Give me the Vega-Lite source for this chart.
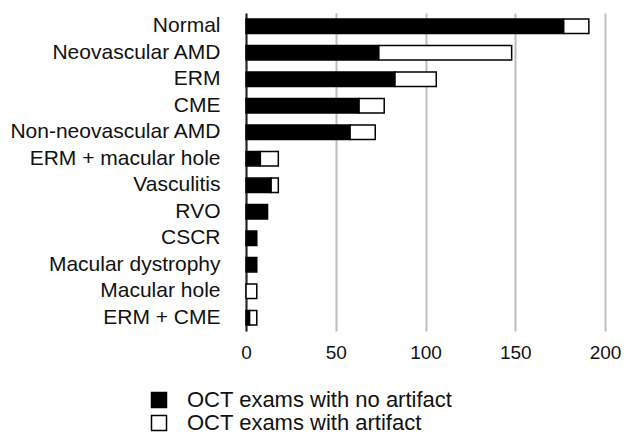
{
  "$schema": "https://vega.github.io/schema/vega-lite/v6.json",
  "autosize": "none",
  "width": 359,
  "height": 318,
  "padding": {"left": 246, "top": 13, "right": 28, "bottom": 104},
  "background": "white",
  "config": {
    "font": "Liberation Sans",
    "view": {"stroke": null}
  },
  "data": {
    "values": [
      {"condition": "Normal", "type": "OCT exams with no artifact", "count": 177},
      {"condition": "Normal", "type": "OCT exams with artifact", "count": 14},
      {"condition": "Neovascular AMD", "type": "OCT exams with no artifact", "count": 74},
      {"condition": "Neovascular AMD", "type": "OCT exams with artifact", "count": 74},
      {"condition": "ERM", "type": "OCT exams with no artifact", "count": 83},
      {"condition": "ERM", "type": "OCT exams with artifact", "count": 23},
      {"condition": "CME", "type": "OCT exams with no artifact", "count": 63},
      {"condition": "CME", "type": "OCT exams with artifact", "count": 14},
      {"condition": "Non-neovascular AMD", "type": "OCT exams with no artifact", "count": 58},
      {"condition": "Non-neovascular AMD", "type": "OCT exams with artifact", "count": 14},
      {"condition": "ERM + macular hole", "type": "OCT exams with no artifact", "count": 8},
      {"condition": "ERM + macular hole", "type": "OCT exams with artifact", "count": 10},
      {"condition": "Vasculitis", "type": "OCT exams with no artifact", "count": 14},
      {"condition": "Vasculitis", "type": "OCT exams with artifact", "count": 4},
      {"condition": "RVO", "type": "OCT exams with no artifact", "count": 12},
      {"condition": "RVO", "type": "OCT exams with artifact", "count": 0},
      {"condition": "CSCR", "type": "OCT exams with no artifact", "count": 6},
      {"condition": "CSCR", "type": "OCT exams with artifact", "count": 0},
      {"condition": "Macular dystrophy", "type": "OCT exams with no artifact", "count": 6},
      {"condition": "Macular dystrophy", "type": "OCT exams with artifact", "count": 0},
      {"condition": "Macular hole", "type": "OCT exams with no artifact", "count": 0},
      {"condition": "Macular hole", "type": "OCT exams with artifact", "count": 6},
      {"condition": "ERM + CME", "type": "OCT exams with no artifact", "count": 2},
      {"condition": "ERM + CME", "type": "OCT exams with artifact", "count": 4}
    ]
  },
  "transform": [{"filter": "datum.count > 0"}],
  "mark": {"type": "bar", "stroke": "black", "strokeWidth": 1.5},
  "encoding": {
    "y": {
      "field": "condition",
      "type": "nominal",
      "sort": ["Normal", "Neovascular AMD", "ERM", "CME", "Non-neovascular AMD", "ERM + macular hole", "Vasculitis", "RVO", "CSCR", "Macular dystrophy", "Macular hole", "ERM + CME"],
      "scale": {"paddingInner": 0.46, "paddingOuter": 0.23},
      "axis": {
        "title": null,
        "ticks": false,
        "labelPadding": 26,
        "labelFontSize": 21,
        "labelLimit": 0,
        "labelColor": "#111",
        "domainColor": "#222",
        "domainWidth": 2,
        "grid": false
      }
    },
    "x": {
      "field": "count",
      "type": "quantitative",
      "stack": "zero",
      "scale": {"domain": [0, 200], "nice": false},
      "axis": {
        "title": null,
        "values": [0, 50, 100, 150, 200],
        "domain": false,
        "ticks": false,
        "grid": true,
        "gridColor": "#bdbdbd",
        "gridWidth": 2,
        "labelFontSize": 19,
        "labelColor": "#111",
        "labelPadding": 12,
        "labelFlush": false
      }
    },
    "color": {
      "field": "type",
      "type": "nominal",
      "scale": {
        "domain": ["OCT exams with no artifact", "OCT exams with artifact"],
        "range": ["black", "white"]
      },
      "legend": {
        "title": null,
        "orient": "none",
        "legendX": -98,
        "legendY": 376,
        "symbolType": "square",
        "symbolSize": 225,
        "symbolStrokeColor": "black",
        "symbolStrokeWidth": 1.5,
        "symbolOpacity": 1,
        "labelFontSize": 22,
        "labelLimit": 0,
        "labelColor": "#111",
        "labelOffset": 17,
        "rowPadding": 1
      }
    },
    "order": {"field": "type", "sort": "descending"}
  }
}
